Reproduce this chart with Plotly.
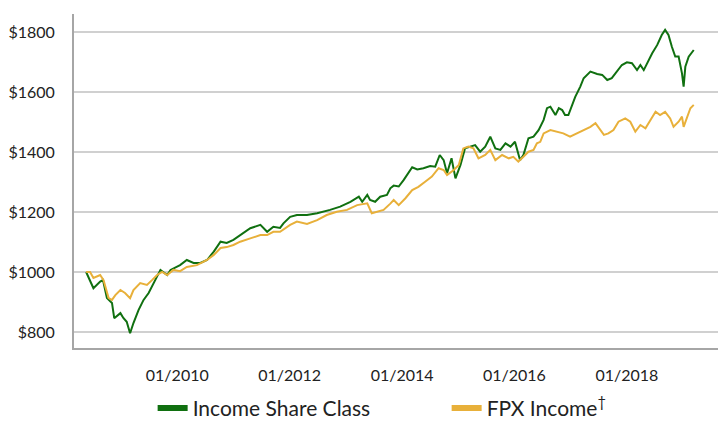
import pandas as pd
import plotly.graph_objects as go

# Income Share Class (decimal year, value in $)
green_t = [2008.38, 2008.51, 2008.63, 2008.68, 2008.75, 2008.84, 2008.88, 2008.99, 2009.04, 2009.10,
           2009.16, 2009.22, 2009.31, 2009.40, 2009.49, 2009.58, 2009.70, 2009.82, 2009.88, 2010.05,
           2010.17, 2010.29, 2010.41, 2010.53, 2010.65, 2010.77, 2010.88, 2011.00, 2011.12, 2011.30,
           2011.48, 2011.60, 2011.71, 2011.83, 2011.89, 2012.01, 2012.13, 2012.31, 2012.49, 2012.60,
           2012.72, 2012.90, 2013.08, 2013.23, 2013.29, 2013.38, 2013.43, 2013.52, 2013.61, 2013.73,
           2013.79, 2013.85, 2013.94, 2014.03, 2014.18, 2014.27, 2014.38, 2014.50, 2014.59, 2014.67,
           2014.74, 2014.80, 2014.88, 2014.95, 2015.04, 2015.12, 2015.21, 2015.30, 2015.39, 2015.48,
           2015.57, 2015.66, 2015.75, 2015.84, 2015.93, 2016.01, 2016.10, 2016.16, 2016.25, 2016.34,
           2016.43, 2016.52, 2016.58, 2016.64, 2016.73, 2016.79, 2016.85, 2016.90, 2016.96, 2017.02,
           2017.08, 2017.17, 2017.23, 2017.35, 2017.47, 2017.56, 2017.65, 2017.73, 2017.82, 2017.91,
           2018.00, 2018.09, 2018.18, 2018.24, 2018.30, 2018.36, 2018.45, 2018.54, 2018.62, 2018.68,
           2018.74, 2018.80, 2018.86, 2018.92, 2018.98, 2019.01, 2019.04, 2019.10, 2019.19]
green_v = [1000, 946, 968, 973, 913, 897, 846, 863, 847, 834,
           796, 830, 873, 907, 930, 963, 1007, 990, 1007, 1023,
           1040, 1030, 1030, 1040, 1068, 1101, 1097, 1107, 1123, 1146,
           1157, 1134, 1151, 1147, 1162, 1184, 1190, 1190, 1196, 1201,
           1207, 1218, 1234, 1251, 1234, 1257, 1240, 1234, 1251, 1257,
           1279, 1288, 1285, 1307, 1349, 1342, 1346, 1353, 1351, 1390,
           1373, 1329, 1379, 1312, 1357, 1412, 1418, 1423, 1401, 1418,
           1451, 1412, 1407, 1429, 1418, 1434, 1373, 1390, 1446, 1451,
           1473, 1507, 1546, 1551, 1523, 1546, 1540, 1523, 1523, 1551,
           1584, 1618, 1646, 1668, 1660, 1657, 1640, 1646, 1668, 1690,
           1699, 1696, 1673, 1690, 1673, 1696, 1729, 1757, 1790, 1807,
           1790, 1751, 1718, 1718, 1662, 1618, 1684, 1718, 1740]

# FPX Income
gold_t = [2008.38, 2008.45, 2008.51, 2008.63, 2008.69, 2008.78, 2008.84, 2008.90, 2008.99, 2009.07,
          2009.16, 2009.22, 2009.34, 2009.46, 2009.55, 2009.64, 2009.73, 2009.82, 2009.93, 2010.05,
          2010.17, 2010.35, 2010.53, 2010.65, 2010.77, 2010.88, 2011.00, 2011.12, 2011.30, 2011.48,
          2011.60, 2011.71, 2011.83, 2012.01, 2012.13, 2012.31, 2012.49, 2012.66, 2012.84, 2013.02,
          2013.20, 2013.38, 2013.46, 2013.55, 2013.67, 2013.79, 2013.85, 2013.94, 2014.06, 2014.18,
          2014.29, 2014.41, 2014.53, 2014.65, 2014.74, 2014.80, 2014.92, 2015.01, 2015.09, 2015.18,
          2015.27, 2015.36, 2015.48, 2015.57, 2015.66, 2015.78, 2015.90, 2015.98, 2016.07, 2016.16,
          2016.25, 2016.34, 2016.40, 2016.46, 2016.52, 2016.64, 2016.76, 2016.87, 2016.99, 2017.11,
          2017.23, 2017.35, 2017.44, 2017.53, 2017.59, 2017.67, 2017.76, 2017.85, 2017.97, 2018.06,
          2018.15, 2018.24, 2018.33, 2018.42, 2018.51, 2018.59, 2018.68, 2018.77, 2018.83, 2018.92,
          2018.98, 2019.01, 2019.07, 2019.13, 2019.19]
gold_v = [1000, 1000, 980, 990, 973, 913, 907, 923, 940, 930,
          913, 940, 963, 957, 973, 990, 1000, 990, 1007, 1003,
          1017, 1023, 1040, 1057, 1080, 1083, 1090, 1101, 1112, 1123,
          1123, 1134, 1134, 1157, 1168, 1160, 1173, 1190, 1201, 1207,
          1223, 1229, 1196, 1201, 1207, 1228, 1240, 1223, 1246, 1273,
          1284, 1301, 1318, 1346, 1340, 1323, 1340, 1357, 1412, 1418,
          1412, 1379, 1390, 1407, 1373, 1390, 1379, 1384, 1368, 1384,
          1401, 1407, 1429, 1434, 1462, 1473, 1468, 1462, 1451, 1462,
          1473, 1484, 1496, 1473, 1457, 1462, 1473, 1501, 1512, 1501,
          1468, 1490, 1479, 1507, 1534, 1523, 1534, 1512, 1484, 1501,
          1518, 1484, 1518, 1546, 1557]

series_names = ["Income Share Class", "FPX Income<sup>†</sup>"]
series_colors = ["#107010", "#e8b03a"]
tick_years = [2010, 2012, 2014, 2016, 2018]
y_ticks = [800, 1000, 1200, 1400, 1600, 1800]


def to_dates(years):
    out = []
    for y in years:
        yi = int(y)
        base = pd.Timestamp(year=yi, month=1, day=1)
        out.append(base + pd.Timedelta(days=(y - yi) * 365.25))
    return out


fig = go.Figure()
for t, v, c in [(green_t, green_v, series_colors[0]), (gold_t, gold_v, series_colors[1])]:
    fig.add_trace(go.Scatter(x=to_dates(t), y=v, mode="lines", showlegend=False,
                             line=dict(color=c, width=2)))
# legend entries with thick swatches
for n, c in zip(series_names, series_colors):
    fig.add_trace(go.Scatter(x=[None], y=[None], mode="lines", name=n,
                             line=dict(color=c, width=6)))

font = "Lato, 'Open Sans', sans-serif"
fig.update_layout(
    width=720, height=421,
    margin=dict(l=74, r=2, t=14, b=73),
    paper_bgcolor="white", plot_bgcolor="white",
    font=dict(family=font, color="#222222"),
    showlegend=True,
    legend=dict(orientation="h", xref="container", yref="container", x=0.212, y=0.03,
                xanchor="left", yanchor="middle", font=dict(size=21, color="#222222"),
                entrywidthmode="pixels", entrywidth=249, itemwidth=30),
    xaxis=dict(type="date", range=[pd.Timestamp("2008-03-01"), pd.Timestamp("2019-08-16")],
               tickvals=[pd.Timestamp(year=y, month=1, day=1) for y in tick_years],
               ticktext=[f"01/{y}" for y in tick_years],
               showgrid=False, showline=True, linecolor="#a6a6a6", linewidth=2,
               ticks="", ticklabelstandoff=12, tickfont=dict(size=16), zeroline=False),
    yaxis=dict(range=[746.7, 1860], tickvals=y_ticks, ticktext=[f"${v}" for v in y_ticks],
               showgrid=True, gridcolor="#d0d0d0", gridwidth=1.5,
               showline=True, linecolor="#a6a6a6", linewidth=2,
               ticks="", ticklabelstandoff=14, tickfont=dict(size=16), zeroline=False),
)

fig.write_html("out.html")
